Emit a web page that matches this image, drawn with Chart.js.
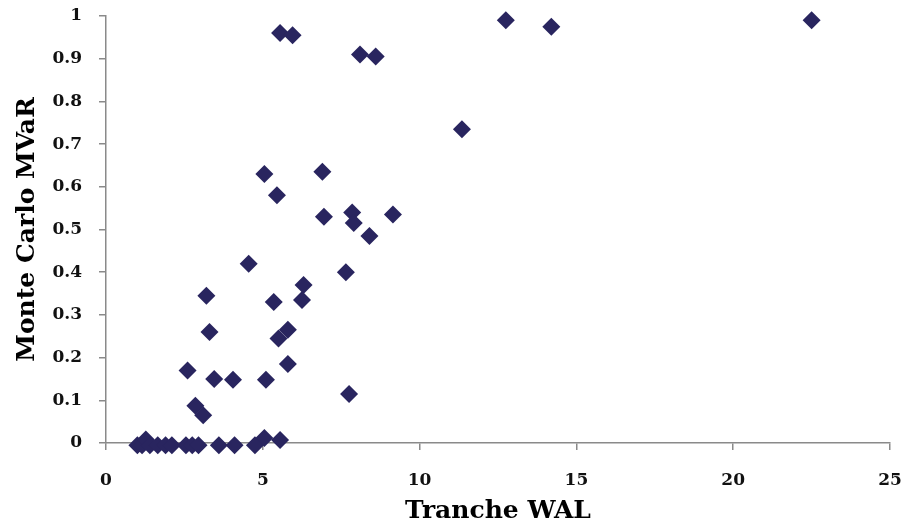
<!DOCTYPE html>
<html>
<head>
<meta charset="utf-8">
<script src="https://cdn.jsdelivr.net/npm/chart.js@4.4.1/dist/chart.umd.min.js"></script>
<style>
  html, body { margin: 0; padding: 0; background: #fff; }
  #wrap { width: 903px; height: 524px; position: relative; }
</style>
</head>
<body>
<div id="wrap"><canvas id="chart" width="903" height="524"></canvas></div>
<script>
// Tranche WAL (years) vs Monte Carlo MVaR
var wal = [
  22.5, 12.75, 14.2, 5.55, 5.95, 8.1, 8.6, 11.35,
  6.9, 5.05, 5.45, 7.85, 6.95, 9.15, 7.9, 8.4,
  4.55, 7.65, 6.3, 6.25, 3.2, 5.35, 3.3, 5.8, 5.5,
  2.6, 3.45, 4.05, 5.1, 5.8, 7.75, 2.85, 3.1,
  1.0, 1.15, 1.27, 1.4, 1.65, 1.9, 2.1, 2.55, 2.75, 2.95,
  3.6, 4.1, 4.75, 5.05, 5.55
];
var mvar = [
  0.99, 0.99, 0.975, 0.96, 0.955, 0.91, 0.905, 0.735,
  0.635, 0.63, 0.58, 0.54, 0.53, 0.535, 0.515, 0.485,
  0.42, 0.4, 0.37, 0.335, 0.345, 0.33, 0.26, 0.265, 0.245,
  0.17, 0.15, 0.148, 0.148, 0.185, 0.115, 0.087, 0.065,
  -0.005, -0.005, 0.008, -0.005, -0.005, -0.005, -0.005, -0.005, -0.005, -0.005,
  -0.005, -0.005, -0.005, 0.012, 0.007
];
var xTicks = [0, 5, 10, 15, 20, 25];
var yTicks = [0, 0.1, 0.2, 0.3, 0.4, 0.5, 0.6, 0.7, 0.8, 0.9, 1];

var points = wal.map(function(x, i) { return { x: x, y: mvar[i] }; });
var axisGrey = '#8a8a8a';
var tickFont = { family: "'DejaVu Serif', serif", size: 17, weight: 'bold' };
var titleFont = { family: "'DejaVu Serif', serif", size: 25, weight: 'bold', lineHeight: 1 };

new Chart(document.getElementById('chart'), {
  type: 'scatter',
  data: {
    datasets: [{
      data: points,
      pointStyle: 'rectRot',
      pointRadius: 9,
      pointHoverRadius: 9,
      backgroundColor: '#29255f',
      borderWidth: 0,
      clip: false
    }]
  },
  options: {
    responsive: false,
    animation: false,
    layout: { autoPadding: false, padding: { top: 16, right: 13, bottom: 0, left: 0 } },
    plugins: { legend: { display: false }, tooltip: { enabled: false } },
    scales: {
      x: {
        type: 'linear', min: 0, max: 25,
        afterBuildTicks: function(s) { s.ticks = xTicks.map(function(v) { return { value: v }; }); },
        // fixed axis band; drop the label overhang so layout.padding decides the plot edges
        afterFit: function(s) { s.height = 81; s.paddingLeft = 0; s.paddingRight = 0; },
        ticks: { color: '#111', font: tickFont, padding: 20, maxRotation: 0 },
        grid: { display: true, drawOnChartArea: false, drawTicks: true, tickLength: 7, color: axisGrey, lineWidth: 1.5 },
        border: { color: axisGrey, width: 1.5 },
        title: { display: true, text: 'Tranche WAL', color: '#000', font: titleFont, padding: { top: 0, bottom: 0 } }
      },
      y: {
        type: 'linear', min: 0, max: 1,
        afterBuildTicks: function(s) { s.ticks = yTicks.map(function(v) { return { value: v }; }); },
        afterFit: function(s) { s.width = 106; s.paddingTop = 0; s.paddingBottom = 0; },
        ticks: { color: '#111', font: tickFont, padding: 17, callback: function(v) { return String(+v.toFixed(1)); } },
        grid: { display: true, drawOnChartArea: false, drawTicks: true, tickLength: 7, color: axisGrey, lineWidth: 1.5 },
        border: { color: axisGrey, width: 1.5 },
        title: { display: true, text: 'Monte Carlo MVaR', color: '#000', font: titleFont, padding: { top: 15, bottom: 0 } }
      }
    }
  }
});
</script>
</body>
</html>
